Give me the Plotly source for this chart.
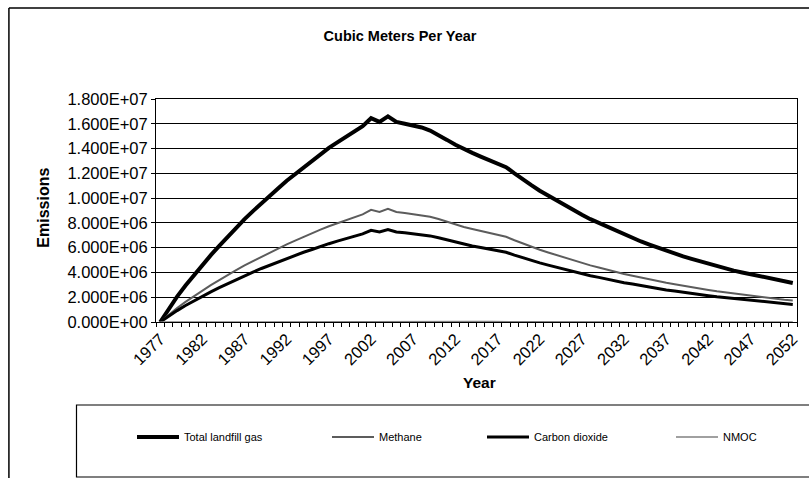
import plotly.graph_objects as go

years = list(range(1977, 2053))

# values in millions of cubic metres per year
total_landfill_gas = [
    0, 1.05, 2.05, 2.95, 3.8, 4.6, 5.4, 6.15, 6.9, 7.6,
    8.3, 8.95, 9.6, 10.2, 10.8, 11.4, 11.95, 12.5, 13.0, 13.55,
    14.05, 14.5, 14.95, 15.35, 15.8, 16.45, 16.15, 16.6, 16.15, 16.0,
    15.85, 15.7, 15.45, 15.1, 14.7, 14.3, 13.95, 13.65, 13.35, 13.05,
    12.8, 12.5, 12.0, 11.5, 11.05, 10.6, 10.2, 9.8, 9.4, 9.0,
    8.65, 8.3, 8.0, 7.65, 7.35, 7.05, 6.8, 6.5, 6.25, 6.0,
    5.75, 5.55, 5.3, 5.1, 4.9, 4.7, 4.5, 4.35, 4.15, 4.0,
    3.85, 3.7, 3.55, 3.4, 3.25, 3.15,
]
methane = [
    0, 0.58, 1.13, 1.62, 2.09, 2.53, 2.97, 3.38, 3.8, 4.18,
    4.57, 4.92, 5.28, 5.61, 5.94, 6.27, 6.57, 6.88, 7.15, 7.45,
    7.73, 7.98, 8.22, 8.44, 8.69, 9.05, 8.88, 9.13, 8.88, 8.8,
    8.72, 8.64, 8.5, 8.31, 8.09, 7.87, 7.67, 7.51, 7.34, 7.18,
    7.04, 6.88, 6.6, 6.33, 6.08, 5.83, 5.61, 5.39, 5.17, 4.95,
    4.76, 4.57, 4.4, 4.21, 4.04, 3.88, 3.74, 3.58, 3.44, 3.3,
    3.16, 3.05, 2.92, 2.81, 2.7, 2.59, 2.48, 2.39, 2.28, 2.2,
    2.12, 2.04, 1.95, 1.87, 1.79, 1.73,
]
carbon_dioxide = [
    0, 0.47, 0.92, 1.33, 1.71, 2.07, 2.43, 2.77, 3.1, 3.42,
    3.74, 4.03, 4.32, 4.59, 4.86, 5.13, 5.38, 5.63, 5.85, 6.1,
    6.32, 6.53, 6.73, 6.91, 7.11, 7.4, 7.27, 7.47, 7.27, 7.2,
    7.13, 7.07, 6.95, 6.8, 6.62, 6.44, 6.28, 6.14, 6.01, 5.87,
    5.76, 5.63, 5.4, 5.18, 4.97, 4.77, 4.59, 4.41, 4.23, 4.05,
    3.89, 3.74, 3.6, 3.44, 3.31, 3.17, 3.06, 2.93, 2.81, 2.7,
    2.59, 2.5, 2.39, 2.3, 2.21, 2.12, 2.03, 1.96, 1.87, 1.8,
    1.73, 1.67, 1.6, 1.53, 1.46, 1.42,
]
nmoc = [
    0, 0.0025, 0.0049, 0.0071, 0.0091, 0.011, 0.013, 0.0148, 0.0166, 0.0182,
    0.0199, 0.0215, 0.023, 0.0245, 0.0259, 0.0274, 0.0287, 0.03, 0.0312, 0.0325,
    0.0337, 0.0348, 0.0359, 0.0368, 0.0379, 0.0395, 0.0388, 0.0398, 0.0388, 0.0384,
    0.038, 0.0377, 0.0371, 0.0362, 0.0353, 0.0343, 0.0335, 0.0328, 0.032, 0.0313,
    0.0307, 0.03, 0.0288, 0.0276, 0.0265, 0.0254, 0.0245, 0.0235, 0.0226, 0.0216,
    0.0208, 0.0199, 0.0192, 0.0184, 0.0176, 0.0169, 0.0163, 0.0156, 0.015, 0.0144,
    0.0138, 0.0133, 0.0127, 0.0122, 0.0118, 0.0113, 0.0108, 0.0104, 0.01, 0.0096,
    0.0092, 0.0089, 0.0085, 0.0082, 0.0078, 0.0076,
]

series_names = ["Total landfill gas", "Methane", "Carbon dioxide", "NMOC"]
y_tick_values = [0, 2e6, 4e6, 6e6, 8e6, 1e7, 1.2e7, 1.4e7, 1.6e7, 1.8e7]
y_tick_labels = ["0.000E+00", "2.000E+06", "4.000E+06", "6.000E+06", "8.000E+06",
                 "1.000E+07", "1.200E+07", "1.400E+07", "1.600E+07", "1.800E+07"]
x_tick_values = list(range(1977, 2053, 5))
x_tick_labels = [str(v) for v in x_tick_values]

W, H = 809, 478
L, R, T, B = 156, 8, 99, 156
PW, PH = W - L - R, H - T - B


def px(x):
    return (x - L) / PW


def py(y):
    return (H - B - y) / PH


FONT = "Liberation Sans, Arial, sans-serif"
LEGFONT = "Liberation Sans, Arial, sans-serif"

styles = [
    dict(color="#000000", width=4),
    dict(color="#5c5c5c", width=2),
    dict(color="#000000", width=3),
    dict(color="#808080", width=1.5),
]
series = [total_landfill_gas, methane, carbon_dioxide, nmoc]
legend_ids = ["legend", "legend2", "legend3", "legend4"]
legend_x = [140, 335, 490, 679]

fig = go.Figure()
for name, vals, st, lid in zip(series_names, series, styles, legend_ids):
    fig.add_trace(go.Scatter(
        x=years, y=[v * 1e6 for v in vals], mode="lines", name=name,
        line=st, legend=lid,
    ))

legend_common = dict(
    orientation="h", xref="container", yref="container",
    yanchor="middle", xanchor="left", bgcolor="rgba(0,0,0,0)",
    borderwidth=0, itemwidth=42,
    font=dict(family=LEGFONT, size=11, color="#000"),
)
leg_layout = {}
for lid, lx in zip(legend_ids, legend_x):
    leg_layout[lid] = dict(legend_common, x=(lx - 8) / W, y=1 - 437 / H)

fig.update_layout(
    width=W, height=H,
    margin=dict(l=L, r=R, t=T, b=B),
    paper_bgcolor="white", plot_bgcolor="white",
    showlegend=True,
    title=dict(text="<b>Cubic Meters Per Year</b>", x=400 / W, xref="container",
               xanchor="center", y=1 - 36 / H, yref="container", yanchor="middle",
               font=dict(family=FONT, size=14.5, color="#000")),
    xaxis=dict(
        range=[1976.5, 2052.5], tickmode="array", tickvals=x_tick_values,
        ticktext=x_tick_labels, tickangle=-45, ticks="",
        tickfont=dict(family=FONT, size=16.5, color="#000"),
        showgrid=False, showline=True, linecolor="#000", linewidth=1,
        mirror=True, zeroline=False,
        minor=dict(tickmode="linear", tick0=1976.5, dtick=1, ticks="outside",
                   ticklen=4, tickcolor="#000", showgrid=False),
    ),
    yaxis=dict(
        range=[0, 1.8e7], tickmode="array", tickvals=y_tick_values,
        ticktext=y_tick_labels, ticks="outside", ticklen=4, tickcolor="#000",
        tickfont=dict(family=FONT, size=16.5, color="#000"),
        showgrid=True, gridcolor="#000", gridwidth=1,
        showline=True, linecolor="#000", linewidth=1, mirror=True,
        zeroline=False,
    ),
    annotations=[
        dict(text="<b>Emissions</b>", x=px(42), y=py(208), xref="paper", yref="paper",
             textangle=-90, showarrow=False, xanchor="center", yanchor="middle",
             font=dict(family=FONT, size=16, color="#000")),
        dict(text="<b>Year</b>", x=px(482), y=py(382), xref="paper", yref="paper",
             showarrow=False, xanchor="center", yanchor="middle",
             font=dict(family=FONT, size=15.5, color="#000")),
    ],
    shapes=[
        dict(type="line", xref="paper", yref="paper", x0=px(8), x1=px(8),
             y0=py(8), y1=py(490), line=dict(color="#000", width=1.5)),
        dict(type="line", xref="paper", yref="paper", x0=px(8), x1=px(815),
             y0=py(8), y1=py(8), line=dict(color="#000", width=1.5)),
        dict(type="rect", xref="paper", yref="paper", x0=px(76), x1=px(815),
             y0=py(405), y1=py(477), line=dict(color="#000", width=1.2)),
    ],
    **leg_layout,
)

fig.write_html("out.html")
